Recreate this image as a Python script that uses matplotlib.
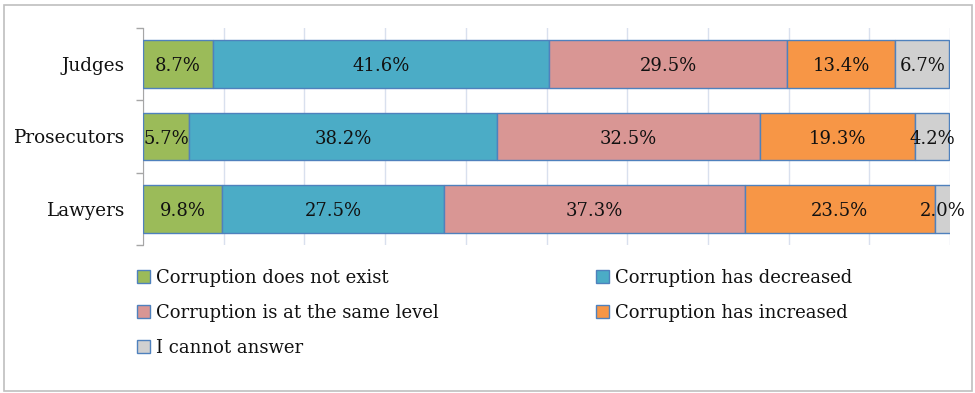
import matplotlib.pyplot as plt
from matplotlib.patches import Rectangle
from matplotlib.ticker import FixedLocator, NullFormatter
import numpy as np

groups = ["Judges", "Prosecutors", "Lawyers"]
series = ["Corruption does not exist", "Corruption has decreased",
          "Corruption is at the same level", "Corruption has increased",
          "I cannot answer"]
not_exist = [8.7, 5.7, 9.8]
decreased = [41.6, 38.2, 27.5]
same_level = [29.5, 32.5, 37.3]
increased = [13.4, 19.3, 23.5]
no_answer = [6.7, 4.2, 2.0]
colors = ["#9BBB59", "#4BACC6", "#D99694", "#F79646", "#D0D0D0"]

plt.rcParams["font.family"] = ["DejaVu Serif"]

fig = plt.figure(figsize=(9.75, 3.93), dpi=100)
fig.patches.append(Rectangle((0.004, 0.006), 0.993, 0.981, transform=fig.transFigure,
                             fill=False, edgecolor="#BFBFBF", linewidth=1.2))
ax = fig.add_axes([0.1467, 0.3766, 0.8277, 0.5522])

y = np.arange(len(groups))
left = np.zeros(len(groups))
handles = []
for name, vals, c in zip(series, [not_exist, decreased, same_level, increased, no_answer], colors):
    vals = np.array(vals)
    bars = ax.barh(y, vals, left=left, height=0.66, color=c, edgecolor="#4F81BD",
                   linewidth=1.0, label=name, zorder=3)
    handles.append(bars)
    for yi, l, v in zip(y, left, vals):
        ax.text(l + v / 2, yi + 0.03, "%.1f%%" % v, ha="center", va="center", fontsize=13,
                color="#111111", zorder=4)
    left += vals

ax.set_xlim(0, 100)
ax.set_ylim(2.5, -0.5)
ax.set_xticks(np.arange(0, 101, 10))
ax.xaxis.set_ticklabels([])
ax.tick_params(axis="x", length=0)
ax.grid(axis="x", color="#D9E0EE", linewidth=1.0, zorder=0)
ax.set_yticks(y)
ax.set_yticklabels(groups, fontsize=13.2, color="#111111")
ax.tick_params(axis="y", which="major", length=0, pad=13)
ax.yaxis.set_minor_locator(FixedLocator([-0.5, 0.5, 1.5, 2.5]))
ax.yaxis.set_minor_formatter(NullFormatter())
ax.tick_params(axis="y", which="minor", length=5, color="#A6A6A6", width=1)
for s in ["top", "right", "bottom"]:
    ax.spines[s].set_visible(False)
ax.spines["left"].set_color("#A6A6A6")

order = [0, 2, 4, 1, 3]
leg = fig.legend([handles[i] for i in order], [series[i] for i in order],
                 loc="upper left", bbox_to_anchor=(0.1405, 0.315), ncol=2, frameon=False,
                 fontsize=13, handlelength=0.72, handleheight=0.72, handletextpad=0.35,
                 columnspacing=8.7, labelspacing=0.93, borderaxespad=0, borderpad=0)
for t in leg.get_texts():
    t.set_color("#111111")

fig.savefig("out.png", dpi=100)
